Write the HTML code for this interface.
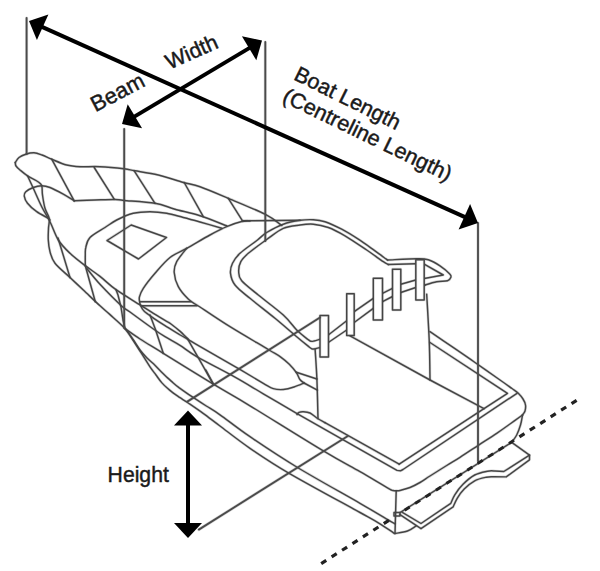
<!DOCTYPE html><html><head><meta charset="utf-8"><style>html,body{margin:0;padding:0;background:#fff}svg{display:block}text{font-family:"Liberation Sans",sans-serif;fill:#1a1a1a;stroke:#1a1a1a;stroke-width:0.45px}</style></head><body>
<svg width="600" height="571" viewBox="0 0 600 571">
<rect width="600" height="571" fill="#fff"/>
<g fill="none" stroke="#444" stroke-width="2.70" stroke-opacity="0.22" stroke-linecap="round" stroke-linejoin="round">
<path d="M15.3,162.5 C15.9,161.7 17.2,158.9 19.0,157.5 C20.8,156.1 23.3,155.0 25.8,154.2 C28.3,153.4 31.3,152.7 34.0,152.8 C36.7,152.9 39.0,153.9 42.0,155.0 C45.0,156.1 47.6,157.5 51.7,159.2 C55.8,160.9 62.0,163.8 66.7,165.0 C71.4,166.2 74.5,166.4 80.0,166.7 C85.5,167.0 92.7,166.3 100.0,166.7 C107.3,167.0 118.2,168.1 124.0,168.8 C129.8,169.5 129.3,169.8 135.0,170.8 C140.7,171.8 150.2,173.1 158.3,175.0 C166.4,176.9 176.4,180.6 183.3,182.5 C190.2,184.4 192.5,184.1 200.0,186.7 C207.5,189.3 217.5,193.7 228.3,198.3 C239.1,202.9 256.1,209.7 265.0,214.2 C273.9,218.7 278.9,223.6 281.7,225.5"/>
<path d="M15.3,162.5 C15.4,163.1 15.2,164.8 16.0,166.0 C16.8,167.2 18.1,168.4 20.0,170.0 C21.9,171.6 24.8,174.1 27.5,175.8 C30.2,177.6 33.8,179.2 36.0,180.5 C38.2,181.8 39.5,182.7 40.5,183.8 C41.5,184.9 41.7,185.1 42.0,187.0 C42.3,188.9 42.0,191.4 42.5,195.0 C43.0,198.6 43.9,204.4 45.0,208.3 C46.1,212.2 48.6,215.0 49.2,218.3 C49.8,221.6 48.6,224.7 48.5,228.3 C48.4,231.9 48.0,236.1 48.3,240.0 C48.5,243.9 48.9,247.8 50.0,251.7 C51.1,255.6 51.7,259.0 55.0,263.3 C58.3,267.6 65.3,273.1 70.0,277.5 C74.7,281.9 78.3,285.3 83.3,290.0 C88.3,294.7 95.5,301.7 100.0,305.8 C104.5,309.9 105.8,310.8 110.0,314.6 C114.2,318.4 121.5,324.6 125.3,328.8 C129.1,333.0 130.6,336.3 133.0,340.0 C135.4,343.7 137.2,346.5 140.0,351.0 C142.8,355.5 147.3,362.8 150.0,366.8 C152.7,370.8 154.1,372.4 156.0,375.0 C157.9,377.6 159.8,380.4 161.7,382.6 C163.6,384.8 165.6,386.6 167.5,388.3 C169.4,390.1 171.3,391.5 173.4,393.1 C175.5,394.7 177.7,396.1 180.0,397.7 C182.3,399.3 183.7,399.9 187.5,402.5 C191.3,405.1 197.4,409.2 202.8,413.1 C208.2,417.0 212.1,420.1 220.0,426.0 C227.9,431.9 238.3,440.3 250.0,448.3 C261.7,456.3 271.7,463.1 290.0,473.8 C308.3,484.4 345.0,504.2 360.0,512.5 C375.0,520.8 374.3,520.3 380.0,523.8 C385.7,527.2 391.8,531.7 394.2,533.3"/>
<path d="M27.5,175.8 C28.5,177.9 30.9,183.2 33.3,188.3 C35.7,193.5 38.9,201.1 41.7,206.7 C44.5,212.3 47.2,216.1 50.0,221.7 C52.8,227.2 55.0,234.7 58.3,240.0 C61.6,245.3 65.5,249.0 70.0,253.3 C74.5,257.6 80.3,261.9 85.3,265.7 C90.3,269.5 94.9,272.4 100.0,276.4 C105.1,280.4 109.2,284.9 116.0,289.7 C122.8,294.5 134.3,301.2 140.5,305.2 C146.7,309.1 149.3,310.9 153.4,313.4 C157.5,315.9 162.1,318.5 165.0,320.3 C167.9,322.1 168.5,322.1 171.0,324.0 C173.5,325.9 177.9,329.4 180.2,331.4 C182.5,333.4 183.6,334.6 185.0,336.0 C186.4,337.4 187.8,339.0 188.4,339.6"/>
<path d="M50.0,220.0 C49.7,219.7 50.5,219.7 48.3,218.3 C46.1,216.9 40.2,214.2 36.7,211.7 C33.2,209.2 29.6,206.0 27.5,203.3 C25.4,200.7 24.5,197.7 24.2,195.8 C23.9,193.9 24.3,193.1 25.8,191.7 C27.3,190.3 30.6,188.5 33.3,187.5 C35.9,186.5 38.9,185.8 41.7,185.8 C44.5,185.8 46.4,186.1 50.0,187.5 C53.6,188.9 59.3,192.0 63.3,194.2 C67.3,196.4 72.4,199.7 74.2,200.8"/>
<path d="M74.2,200.8 C77.7,200.7 88.2,200.2 95.0,200.0 C101.8,199.8 110.2,199.4 115.0,199.5 C119.8,199.6 117.3,199.9 124.0,200.5 C130.7,201.1 146.5,201.9 155.0,203.3 C163.5,204.8 167.5,207.1 175.0,209.2 C182.5,211.3 191.4,213.0 200.0,215.8 C208.6,218.6 222.2,224.1 226.7,225.8"/>
<path d="M85.3,265.7 C85.3,263.9 85.2,258.0 85.3,255.0 C85.4,252.0 85.0,250.4 85.8,247.5 C86.5,244.6 86.8,240.8 90.0,237.5 C93.2,234.2 100.5,230.4 105.0,227.5 C109.5,224.6 112.0,222.4 116.7,220.0 C121.4,217.6 127.8,214.7 133.3,213.3 C138.9,211.9 144.4,211.7 150.0,211.7 C155.6,211.7 161.1,212.3 166.7,213.3 C172.2,214.3 177.8,216.1 183.3,217.5 C188.9,218.9 193.6,220.2 200.0,222.0 C206.4,223.8 218.1,227.2 221.7,228.3"/>
<path d="M250.0,221.0 C248.6,221.1 245.6,220.6 241.7,221.5 C237.8,222.4 232.0,224.4 226.7,226.7 C221.4,228.9 216.7,231.4 210.0,235.0 C203.3,238.6 193.4,244.6 186.7,248.3 C180.0,252.1 175.3,253.3 170.0,257.5 C164.7,261.7 159.4,268.2 155.0,273.3 C150.6,278.4 145.9,284.4 143.3,288.3 C140.7,292.2 140.1,294.5 139.5,296.7 C138.9,298.9 139.4,300.3 139.6,301.7 C139.8,303.1 139.8,303.6 140.5,305.2 C141.2,306.8 141.8,309.0 144.0,311.1 C146.2,313.2 149.9,315.7 153.4,318.1 C156.9,320.5 160.5,322.8 165.0,325.6 C169.5,328.4 176.3,332.7 180.2,335.0 C184.1,337.3 185.1,337.7 188.4,339.6 C191.7,341.6 192.4,342.2 200.2,346.7 C208.0,351.2 224.5,360.5 235.0,366.6 C245.5,372.7 256.9,379.6 263.3,383.3 C269.7,387.0 270.0,387.6 273.3,388.6 C276.6,389.6 279.9,389.8 283.4,389.5 C286.8,389.2 290.6,388.1 294.0,387.0 C297.4,385.9 302.3,383.7 304.0,383.0"/>
<path d="M186.7,248.3 C185.0,250.5 178.8,257.7 176.7,261.7 C174.6,265.7 173.9,268.3 174.2,272.5 C174.5,276.7 175.9,282.2 178.3,286.7 C180.7,291.2 184.9,295.9 188.5,299.3 C192.1,302.7 193.1,302.4 200.0,307.0 C206.9,311.6 218.6,319.6 230.0,326.7 C241.4,333.8 259.8,344.4 268.3,349.5 C276.8,354.6 277.6,354.8 281.1,357.3 C284.6,359.8 286.8,361.8 289.3,364.3 C291.8,366.8 294.5,370.0 296.3,372.5 C298.1,375.0 298.6,377.8 299.9,379.5 C301.2,381.2 303.3,382.4 304.0,383.0"/>
<path d="M86.7,268.3 C88.9,271.0 94.2,278.1 100.0,284.3 C105.8,290.5 116.3,301.1 121.3,305.7 C126.3,310.3 124.7,308.1 130.0,312.0 C135.3,315.9 147.6,324.9 153.4,329.0 C159.2,333.1 160.6,334.0 165.0,336.7 C169.4,339.4 174.7,342.1 180.0,345.4 C185.3,348.7 187.5,351.3 196.7,356.6 C205.9,361.9 223.9,370.9 235.0,377.1 C246.1,383.3 252.9,387.7 263.3,393.8 C273.7,399.9 291.8,410.4 297.5,413.8"/>
<path d="M125.3,328.8 C127.8,330.5 133.7,334.9 140.0,339.0 C146.3,343.1 151.1,345.8 163.3,353.3 C175.5,360.8 198.9,375.4 213.3,384.2 C227.8,392.9 231.6,394.6 250.0,405.8 C268.4,417.0 305.4,440.3 323.8,451.2 C342.1,462.2 349.2,465.5 360.0,471.7 C370.8,477.9 382.8,485.2 388.3,488.3 C393.8,491.4 391.6,490.1 393.0,490.5 C394.4,490.9 395.4,490.9 396.7,490.8 C398.0,490.8 398.8,490.8 401.0,490.2 C403.2,489.6 406.8,488.8 410.0,487.5 C413.2,486.2 416.7,484.4 420.0,482.5 C423.3,480.6 425.6,478.8 430.0,476.0 C434.4,473.2 441.7,468.6 446.7,465.5 C451.7,462.4 454.7,460.7 460.0,457.3 C465.3,453.9 472.2,449.3 478.3,445.3 C484.4,441.3 491.4,436.9 496.7,433.3 C502.0,429.8 505.7,427.1 510.0,424.0 C514.3,420.9 520.4,416.5 522.5,415.0"/>
<path d="M125.3,328.8 C126.6,330.6 130.6,336.0 133.0,339.5 C135.4,343.0 137.7,346.9 140.0,350.0 C142.3,353.1 144.6,355.5 147.0,358.0 C149.4,360.5 152.5,362.9 154.7,365.0 C156.9,367.1 157.8,368.4 160.0,370.5 C162.2,372.6 165.4,375.9 167.6,377.9 C169.8,379.9 171.1,381.0 173.0,382.7 C174.9,384.4 177.1,386.2 179.3,387.9 C181.5,389.5 183.8,391.1 186.0,392.6 C188.2,394.2 189.4,395.0 192.8,397.2 C196.2,399.4 201.8,403.1 206.3,406.0 C210.8,408.9 212.7,409.7 220.0,414.8 C227.3,419.9 237.1,427.9 250.0,436.7 C262.9,445.5 279.2,456.4 297.5,467.5 C315.8,478.6 344.4,494.3 360.0,503.3 C375.6,512.3 385.2,518.3 391.0,521.7 C396.8,525.1 394.3,523.2 395.0,523.5"/>
<path d="M320.0,347.5 C319.2,347.7 316.8,348.4 315.5,348.7 C314.2,348.9 313.5,349.2 312.5,349.0 C311.5,348.8 312.1,349.2 309.5,347.2 C306.9,345.1 302.4,341.5 296.7,336.7 C290.9,331.9 282.8,324.7 275.0,318.3 C267.2,311.9 256.7,303.9 250.0,298.3 C243.3,292.8 238.2,289.2 235.0,285.0 C231.8,280.8 230.9,276.9 230.5,273.3 C230.1,269.7 230.9,266.6 232.5,263.3 C234.1,260.0 235.8,257.2 240.0,253.3 C244.2,249.4 253.1,243.5 257.5,240.0 C261.9,236.5 262.4,235.1 266.7,232.5 C271.0,229.9 277.8,226.2 283.3,224.2 C288.9,222.2 295.0,221.1 300.0,220.3 C305.0,219.6 309.1,219.5 313.3,219.7 C317.5,219.9 320.3,220.1 325.0,221.7 C329.7,223.3 336.1,226.3 341.7,229.2 C347.2,232.1 352.8,235.6 358.3,239.2 C363.9,242.8 370.7,247.8 375.0,250.8 C379.3,253.9 381.9,256.0 384.0,257.5 C386.1,259.0 386.9,259.6 387.5,260.0"/>
<path d="M387.5,260.0 C392.4,259.8 409.9,258.8 416.7,258.7 C423.5,258.6 424.4,258.5 428.3,259.7 C432.2,260.9 436.4,263.4 440.0,265.8 C443.6,268.2 448.2,272.2 450.0,274.2 C451.8,276.1 451.2,276.4 450.8,277.5 C450.4,278.6 449.9,280.1 447.5,280.8 C445.1,281.5 440.4,281.0 436.7,281.7 C432.9,282.4 426.9,284.4 425.0,285.0"/>
<path d="M320.0,339.2 C319.0,339.5 315.5,340.6 314.0,341.0 C312.5,341.4 312.0,341.6 311.0,341.3 C310.0,341.1 310.4,341.4 308.0,339.5 C305.6,337.6 300.8,334.1 296.7,330.0 C292.6,325.9 289.7,320.8 283.3,315.0 C276.9,309.2 265.2,300.7 258.3,295.0 C251.4,289.3 245.0,284.7 241.7,280.8 C238.4,276.9 238.8,274.9 238.7,271.7 C238.5,268.5 239.2,264.8 240.8,261.7 C242.4,258.6 244.0,257.0 248.3,253.3 C252.6,249.6 260.9,243.7 266.7,239.5 C272.5,235.3 277.8,230.7 283.3,228.3 C288.9,225.9 295.0,225.7 300.0,225.0 C305.0,224.3 308.6,223.8 313.3,224.2 C318.0,224.6 323.0,225.6 328.3,227.5 C333.6,229.4 338.6,232.1 345.0,235.8 C351.4,239.6 360.3,245.7 366.7,250.0 C373.1,254.3 379.7,259.3 383.3,261.7 C386.9,264.1 387.5,264.0 388.3,264.5"/>
<path d="M315.1,349.0 C315.4,354.0 316.4,367.4 316.9,379.0 C317.4,390.6 317.8,411.9 318.0,418.5"/>
<path d="M426.7,294.2 C427.1,301.8 428.6,325.7 429.2,340.0 C429.8,354.3 429.9,373.3 430.0,380.0"/>
<path d="M430.0,331.7 C433.7,334.2 444.5,341.6 452.0,346.7 C459.5,351.8 467.0,356.9 475.0,362.5 C483.0,368.1 493.8,375.7 500.0,380.0 C506.2,384.3 508.9,386.3 512.0,388.5 C515.0,390.7 516.5,391.6 518.3,393.3 C520.1,395.1 521.8,397.1 523.0,399.0 C524.2,400.9 525.2,403.0 525.5,405.0 C525.8,407.0 525.5,409.3 525.0,411.0 C524.5,412.7 522.9,414.3 522.5,415.0"/>
<path d="M522.5,415.0 C522.2,416.7 521.5,421.7 520.5,425.0 C519.5,428.3 518.2,432.1 516.7,435.0 C515.2,437.9 512.5,441.2 511.7,442.5"/>
<path d="M297.0,414.5 C297.3,414.1 297.9,412.8 299.0,412.3 C300.1,411.8 301.5,411.6 303.3,411.7 C305.1,411.8 307.6,411.9 310.0,413.0 C312.4,414.1 315.0,416.9 317.5,418.5 C320.0,420.1 323.8,422.0 325.0,422.7"/>
<path d="M395.0,533.5 C397.1,533.1 404.0,532.2 407.5,531.0 C411.0,529.8 414.6,526.8 416.0,526.0"/>
<path d="M325.0,422.7 L399.2,464.2"/>
<path d="M51.7,159.2 L74.2,200.8"/>
<path d="M94.2,167.5 L114.2,199.2"/>
<path d="M134.2,170.8 L155.0,203.3"/>
<path d="M184.2,182.5 L203.3,216.7"/>
<path d="M228.3,198.3 L242.5,220.8"/>
<path d="M242.5,220.8 L300.0,220.3"/>
<path d="M131.2,225.0 L166.5,237.5 L138.5,259.0 L107.0,240.5 L131.2,225.0"/>
<path d="M140.5,301.7 L191.0,301.7"/>
<path d="M141.0,305.8 L196.8,305.8"/>
<path d="M58.0,238.0 L70.0,277.5"/>
<path d="M85.3,265.7 L95.3,301.7"/>
<path d="M116.0,289.7 L118.0,295.0 L121.0,307.0 L123.0,320.0 L125.0,328.5"/>
<path d="M150.0,315.0 L155.2,328.7 L163.3,353.3"/>
<path d="M187.3,338.4 L213.3,384.2"/>
<path d="M205.8,370.0 L213.3,384.2"/>
<path d="M296.3,372.3 L316.9,379.0"/>
<path d="M304.0,383.0 L317.4,390.1"/>
<path d="M388.3,264.5 L415.8,263.7"/>
<path d="M424.2,264.2 L443.3,275.0 L424.2,278.5"/>
<path d="M415.8,280.0 L400.8,284.2"/>
<path d="M392.5,288.3 L382.5,293.3"/>
<path d="M373.3,298.3 L354.2,311.7"/>
<path d="M346.7,320.8 L328.3,335.0"/>
<path d="M425.0,285.0 L424.2,285.3"/>
<path d="M415.8,287.5 L400.8,292.5"/>
<path d="M392.5,296.5 L382.5,301.7"/>
<path d="M373.3,308.3 L354.2,322.5"/>
<path d="M346.7,330.0 L328.3,342.5"/>
<path d="M350.0,335.8 L430.0,380.0 L484.0,408.7"/>
<path d="M430.0,342.5 L507.5,393.3 L484.0,408.7 L399.2,464.2"/>
<path d="M517.0,393.3 L403.0,469.5 L400.5,470.8 L397.0,470.4 L297.5,413.8"/>
<path d="M511.7,442.3 L400.0,512.6"/>
<path d="M396.2,491.0 L395.0,533.5"/>
<path d="M394.0,512.5 L400.0,512.5 L400.0,516.0 L394.0,516.0 L394.0,512.5"/>
<path d="M400,514.7 L421,528.7 L453.2,506.8  C453.9,505.4 455.4,501.3 457.2,498.3 C459.0,495.3 461.3,491.9 464.2,489.0 C467.1,486.1 471.0,482.8 474.7,480.8 C478.4,478.8 483.1,477.9 486.3,477.2 C489.5,476.5 492.7,476.9 494.0,476.8 L506.2,476.9 L529.5,459.8 L529.5,455.2 L511.7,442.3"/>
<path d="M402.3,512.3 L421,523.5 L450.8,503.3  C451.5,501.9 452.8,498.0 454.8,494.8 C456.8,491.6 459.7,487.6 463.0,484.3 C466.3,481.0 470.6,477.2 474.7,475.0 C478.8,472.8 484.1,471.9 487.5,471.2 C490.9,470.5 493.8,471.0 495.0,471.0 L503.8,471.5 L529.5,455.2"/>
</g>
<g fill="none" stroke="#444" stroke-width="1.45" stroke-linecap="round" stroke-linejoin="round">
<path d="M15.3,162.5 C15.9,161.7 17.2,158.9 19.0,157.5 C20.8,156.1 23.3,155.0 25.8,154.2 C28.3,153.4 31.3,152.7 34.0,152.8 C36.7,152.9 39.0,153.9 42.0,155.0 C45.0,156.1 47.6,157.5 51.7,159.2 C55.8,160.9 62.0,163.8 66.7,165.0 C71.4,166.2 74.5,166.4 80.0,166.7 C85.5,167.0 92.7,166.3 100.0,166.7 C107.3,167.0 118.2,168.1 124.0,168.8 C129.8,169.5 129.3,169.8 135.0,170.8 C140.7,171.8 150.2,173.1 158.3,175.0 C166.4,176.9 176.4,180.6 183.3,182.5 C190.2,184.4 192.5,184.1 200.0,186.7 C207.5,189.3 217.5,193.7 228.3,198.3 C239.1,202.9 256.1,209.7 265.0,214.2 C273.9,218.7 278.9,223.6 281.7,225.5"/>
<path d="M15.3,162.5 C15.4,163.1 15.2,164.8 16.0,166.0 C16.8,167.2 18.1,168.4 20.0,170.0 C21.9,171.6 24.8,174.1 27.5,175.8 C30.2,177.6 33.8,179.2 36.0,180.5 C38.2,181.8 39.5,182.7 40.5,183.8 C41.5,184.9 41.7,185.1 42.0,187.0 C42.3,188.9 42.0,191.4 42.5,195.0 C43.0,198.6 43.9,204.4 45.0,208.3 C46.1,212.2 48.6,215.0 49.2,218.3 C49.8,221.6 48.6,224.7 48.5,228.3 C48.4,231.9 48.0,236.1 48.3,240.0 C48.5,243.9 48.9,247.8 50.0,251.7 C51.1,255.6 51.7,259.0 55.0,263.3 C58.3,267.6 65.3,273.1 70.0,277.5 C74.7,281.9 78.3,285.3 83.3,290.0 C88.3,294.7 95.5,301.7 100.0,305.8 C104.5,309.9 105.8,310.8 110.0,314.6 C114.2,318.4 121.5,324.6 125.3,328.8 C129.1,333.0 130.6,336.3 133.0,340.0 C135.4,343.7 137.2,346.5 140.0,351.0 C142.8,355.5 147.3,362.8 150.0,366.8 C152.7,370.8 154.1,372.4 156.0,375.0 C157.9,377.6 159.8,380.4 161.7,382.6 C163.6,384.8 165.6,386.6 167.5,388.3 C169.4,390.1 171.3,391.5 173.4,393.1 C175.5,394.7 177.7,396.1 180.0,397.7 C182.3,399.3 183.7,399.9 187.5,402.5 C191.3,405.1 197.4,409.2 202.8,413.1 C208.2,417.0 212.1,420.1 220.0,426.0 C227.9,431.9 238.3,440.3 250.0,448.3 C261.7,456.3 271.7,463.1 290.0,473.8 C308.3,484.4 345.0,504.2 360.0,512.5 C375.0,520.8 374.3,520.3 380.0,523.8 C385.7,527.2 391.8,531.7 394.2,533.3"/>
<path d="M27.5,175.8 C28.5,177.9 30.9,183.2 33.3,188.3 C35.7,193.5 38.9,201.1 41.7,206.7 C44.5,212.3 47.2,216.1 50.0,221.7 C52.8,227.2 55.0,234.7 58.3,240.0 C61.6,245.3 65.5,249.0 70.0,253.3 C74.5,257.6 80.3,261.9 85.3,265.7 C90.3,269.5 94.9,272.4 100.0,276.4 C105.1,280.4 109.2,284.9 116.0,289.7 C122.8,294.5 134.3,301.2 140.5,305.2 C146.7,309.1 149.3,310.9 153.4,313.4 C157.5,315.9 162.1,318.5 165.0,320.3 C167.9,322.1 168.5,322.1 171.0,324.0 C173.5,325.9 177.9,329.4 180.2,331.4 C182.5,333.4 183.6,334.6 185.0,336.0 C186.4,337.4 187.8,339.0 188.4,339.6"/>
<path d="M50.0,220.0 C49.7,219.7 50.5,219.7 48.3,218.3 C46.1,216.9 40.2,214.2 36.7,211.7 C33.2,209.2 29.6,206.0 27.5,203.3 C25.4,200.7 24.5,197.7 24.2,195.8 C23.9,193.9 24.3,193.1 25.8,191.7 C27.3,190.3 30.6,188.5 33.3,187.5 C35.9,186.5 38.9,185.8 41.7,185.8 C44.5,185.8 46.4,186.1 50.0,187.5 C53.6,188.9 59.3,192.0 63.3,194.2 C67.3,196.4 72.4,199.7 74.2,200.8"/>
<path d="M74.2,200.8 C77.7,200.7 88.2,200.2 95.0,200.0 C101.8,199.8 110.2,199.4 115.0,199.5 C119.8,199.6 117.3,199.9 124.0,200.5 C130.7,201.1 146.5,201.9 155.0,203.3 C163.5,204.8 167.5,207.1 175.0,209.2 C182.5,211.3 191.4,213.0 200.0,215.8 C208.6,218.6 222.2,224.1 226.7,225.8"/>
<path d="M85.3,265.7 C85.3,263.9 85.2,258.0 85.3,255.0 C85.4,252.0 85.0,250.4 85.8,247.5 C86.5,244.6 86.8,240.8 90.0,237.5 C93.2,234.2 100.5,230.4 105.0,227.5 C109.5,224.6 112.0,222.4 116.7,220.0 C121.4,217.6 127.8,214.7 133.3,213.3 C138.9,211.9 144.4,211.7 150.0,211.7 C155.6,211.7 161.1,212.3 166.7,213.3 C172.2,214.3 177.8,216.1 183.3,217.5 C188.9,218.9 193.6,220.2 200.0,222.0 C206.4,223.8 218.1,227.2 221.7,228.3"/>
<path d="M250.0,221.0 C248.6,221.1 245.6,220.6 241.7,221.5 C237.8,222.4 232.0,224.4 226.7,226.7 C221.4,228.9 216.7,231.4 210.0,235.0 C203.3,238.6 193.4,244.6 186.7,248.3 C180.0,252.1 175.3,253.3 170.0,257.5 C164.7,261.7 159.4,268.2 155.0,273.3 C150.6,278.4 145.9,284.4 143.3,288.3 C140.7,292.2 140.1,294.5 139.5,296.7 C138.9,298.9 139.4,300.3 139.6,301.7 C139.8,303.1 139.8,303.6 140.5,305.2 C141.2,306.8 141.8,309.0 144.0,311.1 C146.2,313.2 149.9,315.7 153.4,318.1 C156.9,320.5 160.5,322.8 165.0,325.6 C169.5,328.4 176.3,332.7 180.2,335.0 C184.1,337.3 185.1,337.7 188.4,339.6 C191.7,341.6 192.4,342.2 200.2,346.7 C208.0,351.2 224.5,360.5 235.0,366.6 C245.5,372.7 256.9,379.6 263.3,383.3 C269.7,387.0 270.0,387.6 273.3,388.6 C276.6,389.6 279.9,389.8 283.4,389.5 C286.8,389.2 290.6,388.1 294.0,387.0 C297.4,385.9 302.3,383.7 304.0,383.0"/>
<path d="M186.7,248.3 C185.0,250.5 178.8,257.7 176.7,261.7 C174.6,265.7 173.9,268.3 174.2,272.5 C174.5,276.7 175.9,282.2 178.3,286.7 C180.7,291.2 184.9,295.9 188.5,299.3 C192.1,302.7 193.1,302.4 200.0,307.0 C206.9,311.6 218.6,319.6 230.0,326.7 C241.4,333.8 259.8,344.4 268.3,349.5 C276.8,354.6 277.6,354.8 281.1,357.3 C284.6,359.8 286.8,361.8 289.3,364.3 C291.8,366.8 294.5,370.0 296.3,372.5 C298.1,375.0 298.6,377.8 299.9,379.5 C301.2,381.2 303.3,382.4 304.0,383.0"/>
<path d="M86.7,268.3 C88.9,271.0 94.2,278.1 100.0,284.3 C105.8,290.5 116.3,301.1 121.3,305.7 C126.3,310.3 124.7,308.1 130.0,312.0 C135.3,315.9 147.6,324.9 153.4,329.0 C159.2,333.1 160.6,334.0 165.0,336.7 C169.4,339.4 174.7,342.1 180.0,345.4 C185.3,348.7 187.5,351.3 196.7,356.6 C205.9,361.9 223.9,370.9 235.0,377.1 C246.1,383.3 252.9,387.7 263.3,393.8 C273.7,399.9 291.8,410.4 297.5,413.8"/>
<path d="M125.3,328.8 C127.8,330.5 133.7,334.9 140.0,339.0 C146.3,343.1 151.1,345.8 163.3,353.3 C175.5,360.8 198.9,375.4 213.3,384.2 C227.8,392.9 231.6,394.6 250.0,405.8 C268.4,417.0 305.4,440.3 323.8,451.2 C342.1,462.2 349.2,465.5 360.0,471.7 C370.8,477.9 382.8,485.2 388.3,488.3 C393.8,491.4 391.6,490.1 393.0,490.5 C394.4,490.9 395.4,490.9 396.7,490.8 C398.0,490.8 398.8,490.8 401.0,490.2 C403.2,489.6 406.8,488.8 410.0,487.5 C413.2,486.2 416.7,484.4 420.0,482.5 C423.3,480.6 425.6,478.8 430.0,476.0 C434.4,473.2 441.7,468.6 446.7,465.5 C451.7,462.4 454.7,460.7 460.0,457.3 C465.3,453.9 472.2,449.3 478.3,445.3 C484.4,441.3 491.4,436.9 496.7,433.3 C502.0,429.8 505.7,427.1 510.0,424.0 C514.3,420.9 520.4,416.5 522.5,415.0"/>
<path d="M125.3,328.8 C126.6,330.6 130.6,336.0 133.0,339.5 C135.4,343.0 137.7,346.9 140.0,350.0 C142.3,353.1 144.6,355.5 147.0,358.0 C149.4,360.5 152.5,362.9 154.7,365.0 C156.9,367.1 157.8,368.4 160.0,370.5 C162.2,372.6 165.4,375.9 167.6,377.9 C169.8,379.9 171.1,381.0 173.0,382.7 C174.9,384.4 177.1,386.2 179.3,387.9 C181.5,389.5 183.8,391.1 186.0,392.6 C188.2,394.2 189.4,395.0 192.8,397.2 C196.2,399.4 201.8,403.1 206.3,406.0 C210.8,408.9 212.7,409.7 220.0,414.8 C227.3,419.9 237.1,427.9 250.0,436.7 C262.9,445.5 279.2,456.4 297.5,467.5 C315.8,478.6 344.4,494.3 360.0,503.3 C375.6,512.3 385.2,518.3 391.0,521.7 C396.8,525.1 394.3,523.2 395.0,523.5"/>
<path d="M320.0,347.5 C319.2,347.7 316.8,348.4 315.5,348.7 C314.2,348.9 313.5,349.2 312.5,349.0 C311.5,348.8 312.1,349.2 309.5,347.2 C306.9,345.1 302.4,341.5 296.7,336.7 C290.9,331.9 282.8,324.7 275.0,318.3 C267.2,311.9 256.7,303.9 250.0,298.3 C243.3,292.8 238.2,289.2 235.0,285.0 C231.8,280.8 230.9,276.9 230.5,273.3 C230.1,269.7 230.9,266.6 232.5,263.3 C234.1,260.0 235.8,257.2 240.0,253.3 C244.2,249.4 253.1,243.5 257.5,240.0 C261.9,236.5 262.4,235.1 266.7,232.5 C271.0,229.9 277.8,226.2 283.3,224.2 C288.9,222.2 295.0,221.1 300.0,220.3 C305.0,219.6 309.1,219.5 313.3,219.7 C317.5,219.9 320.3,220.1 325.0,221.7 C329.7,223.3 336.1,226.3 341.7,229.2 C347.2,232.1 352.8,235.6 358.3,239.2 C363.9,242.8 370.7,247.8 375.0,250.8 C379.3,253.9 381.9,256.0 384.0,257.5 C386.1,259.0 386.9,259.6 387.5,260.0"/>
<path d="M387.5,260.0 C392.4,259.8 409.9,258.8 416.7,258.7 C423.5,258.6 424.4,258.5 428.3,259.7 C432.2,260.9 436.4,263.4 440.0,265.8 C443.6,268.2 448.2,272.2 450.0,274.2 C451.8,276.1 451.2,276.4 450.8,277.5 C450.4,278.6 449.9,280.1 447.5,280.8 C445.1,281.5 440.4,281.0 436.7,281.7 C432.9,282.4 426.9,284.4 425.0,285.0"/>
<path d="M320.0,339.2 C319.0,339.5 315.5,340.6 314.0,341.0 C312.5,341.4 312.0,341.6 311.0,341.3 C310.0,341.1 310.4,341.4 308.0,339.5 C305.6,337.6 300.8,334.1 296.7,330.0 C292.6,325.9 289.7,320.8 283.3,315.0 C276.9,309.2 265.2,300.7 258.3,295.0 C251.4,289.3 245.0,284.7 241.7,280.8 C238.4,276.9 238.8,274.9 238.7,271.7 C238.5,268.5 239.2,264.8 240.8,261.7 C242.4,258.6 244.0,257.0 248.3,253.3 C252.6,249.6 260.9,243.7 266.7,239.5 C272.5,235.3 277.8,230.7 283.3,228.3 C288.9,225.9 295.0,225.7 300.0,225.0 C305.0,224.3 308.6,223.8 313.3,224.2 C318.0,224.6 323.0,225.6 328.3,227.5 C333.6,229.4 338.6,232.1 345.0,235.8 C351.4,239.6 360.3,245.7 366.7,250.0 C373.1,254.3 379.7,259.3 383.3,261.7 C386.9,264.1 387.5,264.0 388.3,264.5"/>
<path d="M315.1,349.0 C315.4,354.0 316.4,367.4 316.9,379.0 C317.4,390.6 317.8,411.9 318.0,418.5"/>
<path d="M426.7,294.2 C427.1,301.8 428.6,325.7 429.2,340.0 C429.8,354.3 429.9,373.3 430.0,380.0"/>
<path d="M430.0,331.7 C433.7,334.2 444.5,341.6 452.0,346.7 C459.5,351.8 467.0,356.9 475.0,362.5 C483.0,368.1 493.8,375.7 500.0,380.0 C506.2,384.3 508.9,386.3 512.0,388.5 C515.0,390.7 516.5,391.6 518.3,393.3 C520.1,395.1 521.8,397.1 523.0,399.0 C524.2,400.9 525.2,403.0 525.5,405.0 C525.8,407.0 525.5,409.3 525.0,411.0 C524.5,412.7 522.9,414.3 522.5,415.0"/>
<path d="M522.5,415.0 C522.2,416.7 521.5,421.7 520.5,425.0 C519.5,428.3 518.2,432.1 516.7,435.0 C515.2,437.9 512.5,441.2 511.7,442.5"/>
<path d="M297.0,414.5 C297.3,414.1 297.9,412.8 299.0,412.3 C300.1,411.8 301.5,411.6 303.3,411.7 C305.1,411.8 307.6,411.9 310.0,413.0 C312.4,414.1 315.0,416.9 317.5,418.5 C320.0,420.1 323.8,422.0 325.0,422.7"/>
<path d="M395.0,533.5 C397.1,533.1 404.0,532.2 407.5,531.0 C411.0,529.8 414.6,526.8 416.0,526.0"/>
<path d="M325.0,422.7 L399.2,464.2"/>
<path d="M51.7,159.2 L74.2,200.8"/>
<path d="M94.2,167.5 L114.2,199.2"/>
<path d="M134.2,170.8 L155.0,203.3"/>
<path d="M184.2,182.5 L203.3,216.7"/>
<path d="M228.3,198.3 L242.5,220.8"/>
<path d="M242.5,220.8 L300.0,220.3"/>
<path d="M131.2,225.0 L166.5,237.5 L138.5,259.0 L107.0,240.5 L131.2,225.0"/>
<path d="M140.5,301.7 L191.0,301.7"/>
<path d="M141.0,305.8 L196.8,305.8"/>
<path d="M58.0,238.0 L70.0,277.5"/>
<path d="M85.3,265.7 L95.3,301.7"/>
<path d="M116.0,289.7 L118.0,295.0 L121.0,307.0 L123.0,320.0 L125.0,328.5"/>
<path d="M150.0,315.0 L155.2,328.7 L163.3,353.3"/>
<path d="M187.3,338.4 L213.3,384.2"/>
<path d="M205.8,370.0 L213.3,384.2"/>
<path d="M296.3,372.3 L316.9,379.0"/>
<path d="M304.0,383.0 L317.4,390.1"/>
<path d="M388.3,264.5 L415.8,263.7"/>
<path d="M424.2,264.2 L443.3,275.0 L424.2,278.5"/>
<path d="M415.8,280.0 L400.8,284.2"/>
<path d="M392.5,288.3 L382.5,293.3"/>
<path d="M373.3,298.3 L354.2,311.7"/>
<path d="M346.7,320.8 L328.3,335.0"/>
<path d="M425.0,285.0 L424.2,285.3"/>
<path d="M415.8,287.5 L400.8,292.5"/>
<path d="M392.5,296.5 L382.5,301.7"/>
<path d="M373.3,308.3 L354.2,322.5"/>
<path d="M346.7,330.0 L328.3,342.5"/>
<path d="M350.0,335.8 L430.0,380.0 L484.0,408.7"/>
<path d="M430.0,342.5 L507.5,393.3 L484.0,408.7 L399.2,464.2"/>
<path d="M517.0,393.3 L403.0,469.5 L400.5,470.8 L397.0,470.4 L297.5,413.8"/>
<path d="M511.7,442.3 L400.0,512.6"/>
<path d="M396.2,491.0 L395.0,533.5"/>
<path d="M394.0,512.5 L400.0,512.5 L400.0,516.0 L394.0,516.0 L394.0,512.5"/>
<path d="M400,514.7 L421,528.7 L453.2,506.8  C453.9,505.4 455.4,501.3 457.2,498.3 C459.0,495.3 461.3,491.9 464.2,489.0 C467.1,486.1 471.0,482.8 474.7,480.8 C478.4,478.8 483.1,477.9 486.3,477.2 C489.5,476.5 492.7,476.9 494.0,476.8 L506.2,476.9 L529.5,459.8 L529.5,455.2 L511.7,442.3"/>
<path d="M402.3,512.3 L421,523.5 L450.8,503.3  C451.5,501.9 452.8,498.0 454.8,494.8 C456.8,491.6 459.7,487.6 463.0,484.3 C466.3,481.0 470.6,477.2 474.7,475.0 C478.8,472.8 484.1,471.9 487.5,471.2 C490.9,470.5 493.8,471.0 495.0,471.0 L503.8,471.5 L529.5,455.2"/>
</g>
<g fill="#fff" stroke="#444" stroke-width="2.70" stroke-opacity="0.22" stroke-linecap="round" stroke-linejoin="round">
<rect x="320.0" y="315.5" width="8.5" height="41.5"/>
<rect x="346.7" y="293.7" width="7.5" height="41.8"/>
<rect x="373.3" y="278.3" width="9.2" height="41.7"/>
<rect x="392.5" y="269.2" width="8.3" height="40.8"/>
<rect x="415.8" y="259.7" width="8.4" height="40.3"/>
</g>
<g fill="none" stroke="#444" stroke-width="1.45" stroke-linecap="round" stroke-linejoin="round">
<rect x="320.0" y="315.5" width="8.5" height="41.5"/>
<rect x="346.7" y="293.7" width="7.5" height="41.8"/>
<rect x="373.3" y="278.3" width="9.2" height="41.7"/>
<rect x="392.5" y="269.2" width="8.3" height="40.8"/>
<rect x="415.8" y="259.7" width="8.4" height="40.3"/>
</g>
<g fill="none" stroke="#4a4a4a" stroke-width="3.10" stroke-opacity="0.22" stroke-linecap="round" stroke-linejoin="round">
<path d="M26.6,18.0 L26.6,154.0"/>
<path d="M124.2,129.0 L124.2,328.0"/>
<path d="M265.3,42.0 L265.3,241.0"/>
<path d="M478.0,223.0 L478.0,461.0"/>
<path d="M320.0,317.5 L187.3,401.6"/>
<path d="M198.8,529.6 L347.5,436.2"/>
</g>
<g fill="none" stroke="#4a4a4a" stroke-width="1.85" stroke-linecap="round" stroke-linejoin="round">
<path d="M26.6,18.0 L26.6,154.0"/>
<path d="M124.2,129.0 L124.2,328.0"/>
<path d="M265.3,42.0 L265.3,241.0"/>
<path d="M478.0,223.0 L478.0,461.0"/>
<path d="M320.0,317.5 L187.3,401.6"/>
<path d="M198.8,529.6 L347.5,436.2"/>
</g>
<g>
<line x1="321.20" y1="563.60" x2="393.66" y2="517.27" stroke="#222" stroke-width="3.2" stroke-dasharray="6 6.38" stroke-dashoffset="0.00"/>
<line x1="403.77" y1="510.81" x2="515.00" y2="439.70" stroke="#222" stroke-width="2.9" stroke-dasharray="6 6.38" stroke-dashoffset="98.00"/>
<line x1="518.37" y1="437.54" x2="576.68" y2="400.27" stroke="#222" stroke-width="3.2" stroke-dasharray="6 6.38" stroke-dashoffset="234.00"/>
<line x1="38.1" y1="25.1" x2="468.9" y2="218.9" stroke="#000" stroke-width="4"/><polygon points="29.0,21.0 36.9,39.9 48.4,14.4" fill="#000"/><polygon points="478.0,223.0 470.1,204.1 458.6,229.6" fill="#000"/>
<line x1="130.6" y1="118.9" x2="253.4" y2="45.6" stroke="#000" stroke-width="4"/><polygon points="122.0,124.0 142.1,128.3 127.7,104.3" fill="#000"/><polygon points="262.0,40.5 241.9,36.2 256.3,60.2" fill="#000"/>
<line x1="188.0" y1="420.5" x2="188.0" y2="528.0" stroke="#000" stroke-width="4"/><polygon points="188.0,410.5 174.0,425.5 202.0,425.5" fill="#000"/><polygon points="188.0,538.0 202.0,523.0 174.0,523.0" fill="#000"/>
<text transform="translate(107.6,481.7) scale(0.963,1)" font-size="22">Height</text>
<text transform="translate(95.5,112.2) rotate(-27.7)" font-size="22">Beam</text>
<text transform="translate(169.5,69.8) rotate(-24)" font-size="21.5">Width</text>
<text transform="translate(292.8,79) rotate(26.4)" font-size="21.4">Boat Length</text>
<text transform="translate(281.3,101) rotate(25.9)" font-size="21.6">(Centreline Length)</text>
</g></svg></body></html>
